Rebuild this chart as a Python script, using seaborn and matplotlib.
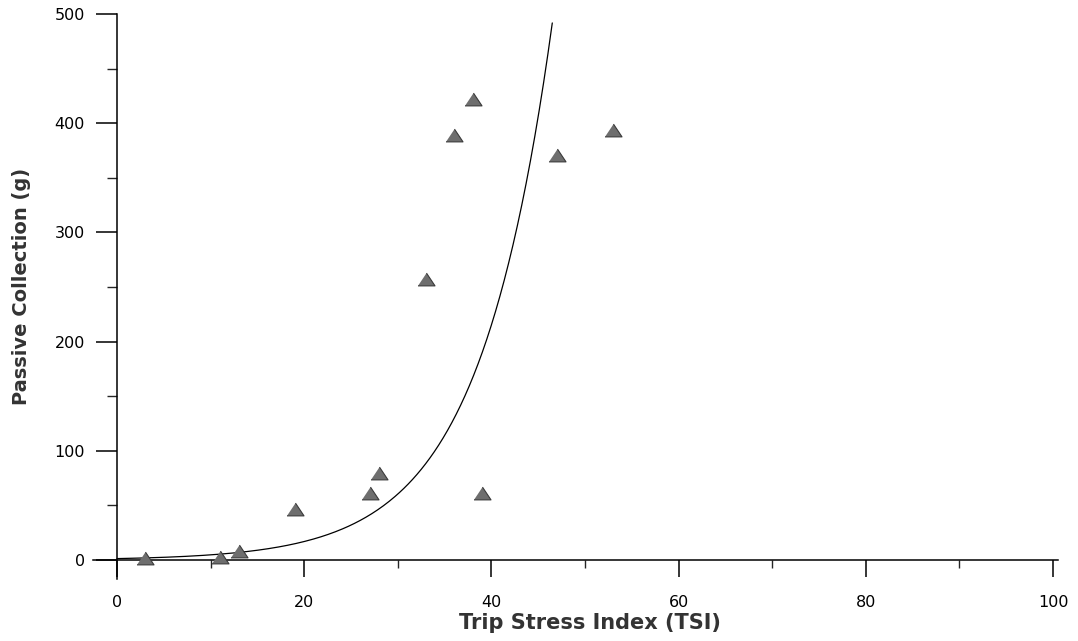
import numpy as np
import pandas as pd
import matplotlib
matplotlib.use("Agg")
import matplotlib.pyplot as plt
from matplotlib.ticker import MultipleLocator
import seaborn as sns

# Observed trips: Trip Stress Index vs. passive collection (g)
tsi = [3, 11, 13, 19, 27, 28, 33, 36, 38, 39, 47, 53]
collection = [2, 3, 8, 47, 61, 80, 257, 389, 422, 61, 371, 394]

# Exponential fit  y = a * exp(b * TSI), drawn up to the top of the scale
fit_a = 1.34
fit_b = 0.127
fit_x_max = 46.5

x_ticks = [0, 20, 40, 60, 80, 100]
y_ticks = [0, 100, 200, 300, 400, 500]

sns.set_style("white")
plt.rcParams["font.family"] = ["DejaVu Sans"]

fig = plt.figure(figsize=(10.78, 6.41), dpi=100)
ax = fig.add_axes([0.086, 0.0973, 0.8952, 0.8808])

df = pd.DataFrame({"TSI": tsi, "Collection": collection})

curve_x = np.linspace(0, fit_x_max, 300)
curve = pd.DataFrame({"TSI": curve_x, "Collection": fit_a * np.exp(fit_b * curve_x)})

sns.lineplot(data=curve, x="TSI", y="Collection", color="black", linewidth=0.9, ax=ax, zorder=2)

# Flattened up-pointing triangle marker
tri = [(-1.0, -0.75), (1.0, -0.75), (0.0, 0.75)]
sns.scatterplot(data=df, x="TSI", y="Collection", marker=tri, s=150,
                color="#6e6e6e", edgecolor="#3a3a3a", linewidth=0.8, ax=ax, zorder=3)

ax.set_xlim(-2.6, 100.5)
ax.set_ylim(-17, 500)

for side in ("top", "right"):
    ax.spines[side].set_visible(False)
ax.spines["left"].set_position(("data", 0))
ax.spines["bottom"].set_position(("data", 0))
for side in ("left", "bottom"):
    ax.spines[side].set_color("black")
    ax.spines[side].set_linewidth(1.1)

ax.set_xticks(x_ticks)
ax.set_yticks(y_ticks)
ax.xaxis.set_minor_locator(MultipleLocator(10))
ax.yaxis.set_minor_locator(MultipleLocator(50))

ax.tick_params(axis="x", which="major", direction="out", length=12, width=1.1,
               pad=13, labelsize=11.5, colors="black", bottom=True)
ax.tick_params(axis="x", which="minor", direction="out", length=6, width=1.0, bottom=True)
ax.tick_params(axis="y", which="major", direction="out", length=15, width=1.1,
               pad=8, labelsize=11.5, colors="black", left=True)
ax.tick_params(axis="y", which="minor", direction="out", length=7, width=1.0, left=True)

ax.set_xlabel("Trip Stress Index (TSI)", fontsize=15, fontweight="bold", color="#333333", va="center")
ax.set_ylabel("Passive Collection (g)", fontsize=14, fontweight="bold", color="#333333", va="center")
ax.xaxis.set_label_coords(0.515, -0.0786)
ax.yaxis.set_label_coords(-0.0733, 0.518)

ax.grid(False)
fig.savefig("out.png", dpi=100)
